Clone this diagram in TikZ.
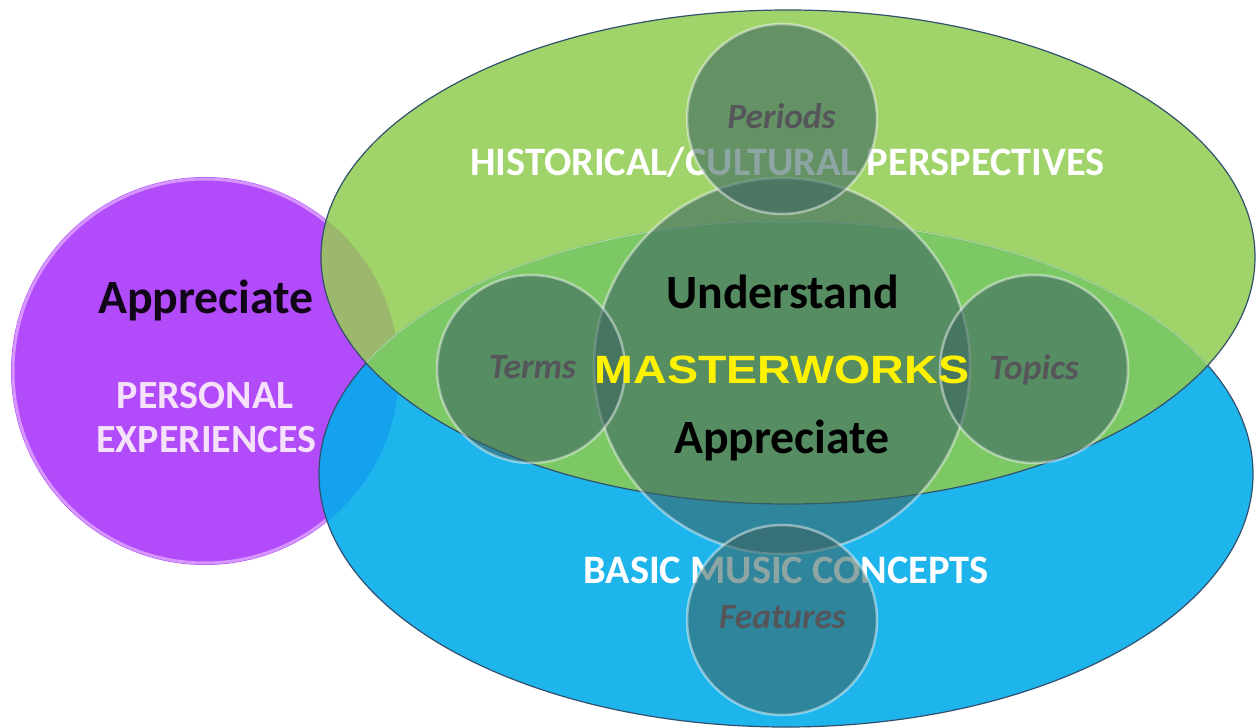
\documentclass[tikz,border=0pt]{standalone}
\usepackage{fontspec}
\setmainfont{Carlito}
\newfontfamily\mwfont{Liberation Sans}
\definecolor{cpurple}{RGB}{178,75,250}
\definecolor{cpurplerim}{RGB}{214,150,255}
\definecolor{cblue}{RGB}{30,181,236}
\definecolor{cgreen}{RGB}{160,212,106}
\definecolor{cpb}{RGB}{20,162,238}
\definecolor{cpg}{RGB}{156,184,108}
\definecolor{cgb}{RGB}{124,200,100}
\definecolor{cedge}{RGB}{50,80,110}
\definecolor{cglass}{RGB}{60,100,97}
\definecolor{clabel}{RGB}{85,85,90}
\definecolor{cpers}{RGB}{245,225,250}
\begin{document}
\begin{tikzpicture}[x=1pt,y=-1pt,
  glass/.style={circle, inner sep=0pt, fill=cglass, fill opacity=0.58, draw=white, draw opacity=0.45, line width=2.5pt},
  biglabel/.style={anchor=base, inner sep=0pt, font=\fontsize{47.8}{52}\selectfont\bfseries},
  setlabel/.style={anchor=base, inner sep=0pt, text=white, font=\fontsize{40.4}{44}\selectfont\bfseries},
  perslabel/.style={anchor=base, inner sep=0pt, text=cpers, font=\fontsize{40}{44}\selectfont\bfseries},
  sublabel/.style={anchor=base, inner sep=0pt, text=clabel, font=\fontsize{35.5}{38}\selectfont\bfseries\itshape}]
\useasboundingbox (0,0) rectangle (1258,728);
% personal circle
\fill[cpurple] (205,371) circle [radius=194];
\draw[cpurplerim, line width=3pt] (205,371) circle [radius=192];
% ellipses
\def\blueell{(786,474) ellipse [x radius=467, y radius=253]}
\def\greenell{(788,257) ellipse [x radius=467, y radius=247]}
\fill[cblue] \blueell;
\fill[cgreen] \greenell;
\begin{scope}
  \clip (205,371) circle [radius=194];
  \fill[cpb] \blueell;
  \fill[cpg] \greenell;
\end{scope}
\begin{scope}
  \clip \blueell;
  \fill[cgb] \greenell;
\end{scope}
\draw[cedge, line width=1.2pt] \blueell;
\begin{scope}
  \clip \greenell;
  \draw[cgb!70!white, line width=1.5pt] \blueell;
\end{scope}
\draw[cedge, line width=1.2pt] \greenell;
% set labels
\node[setlabel] (hist) at (787.5,175) {HISTORICAL/CULTURAL PERSPECTIVES};
\node[setlabel] (basic) at (786,583) {BASIC MUSIC CONCEPTS};
\node[biglabel, text=black!90!cpurple] (appL) at (206,313) {Appreciate};
\node[perslabel] (pers1) at (205,408) {PERSONAL};
\node[perslabel] (pers2) at (206.5,452) {EXPERIENCES};
% glass circles
\node[glass, minimum size=376pt] (center) at (782,366) {};
\node[glass, minimum size=190pt] (periods) at (782,119) {};
\node[glass, minimum size=188pt] (terms) at (531,369) {};
\node[glass, minimum size=188pt] (topics) at (1034,369) {};
\node[glass, minimum size=190pt] (features) at (782,620) {};
% labels
\node[sublabel] (tPeriods) at (781.5,128) {Periods};
\node[sublabel] (tTerms) at (532.5,378) {Terms};
\node[sublabel] (tTopics) at (1034,379) {Topics};
\node[sublabel] (tFeatures) at (782.5,628) {Features};
\node[biglabel, text=black] (under) at (782.5,308) {Understand};
\node[biglabel, text=black] (appC) at (782,453) {Appreciate};
\node[anchor=base, inner sep=0pt, text=yellow, font=\fontsize{39.5}{42}\selectfont\mwfont\bfseries] (master) at (782,383) {\scalebox{1.18}[1]{MASTERWORKS}};
\end{tikzpicture}
\end{document}
